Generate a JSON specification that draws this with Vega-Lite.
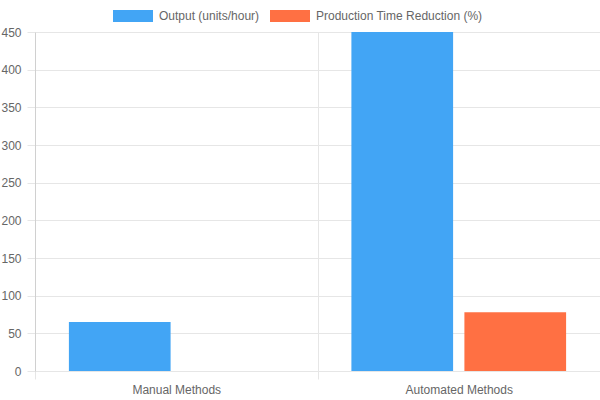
{
  "$schema": "https://vega.github.io/schema/vega-lite/v6.json",
  "description": "Output and production time reduction, manual vs automated methods.",
  "autosize": {"type": "none"},
  "width": 565,
  "height": 339,
  "padding": {"left": 35, "top": 32, "right": 0, "bottom": 29},
  "data": {
    "values": [
      {"method": "Manual Methods", "series": "Output (units/hour)", "value": 65},
      {"method": "Manual Methods", "series": "Production Time Reduction (%)", "value": 0},
      {"method": "Automated Methods", "series": "Output (units/hour)", "value": 450},
      {"method": "Automated Methods", "series": "Production Time Reduction (%)", "value": 78}
    ]
  },
  "mark": {"type": "bar", "stroke": null},
  "encoding": {
    "x": {
      "field": "method",
      "type": "nominal",
      "sort": ["Manual Methods", "Automated Methods"],
      "scale": {"paddingInner": 0, "paddingOuter": 0},
      "title": null,
      "axis": {
        "labelAngle": 0,
        "grid": true,
        "tickBand": "extent",
        "tickSize": 8,
        "labelPadding": 5,
        "domain": false
      }
    },
    "xOffset": {
      "field": "series",
      "type": "nominal",
      "sort": ["Output (units/hour)", "Production Time Reduction (%)"],
      "scale": {"paddingInner": 0.1, "paddingOuter": 0.3}
    },
    "y": {
      "field": "value",
      "type": "quantitative",
      "title": null,
      "scale": {"domain": [0, 450], "nice": false},
      "axis": {
        "values": [0, 50, 100, 150, 200, 250, 300, 350, 400, 450],
        "tickSize": 8,
        "labelPadding": 6
      }
    },
    "color": {
      "field": "series",
      "type": "nominal",
      "sort": ["Output (units/hour)", "Production Time Reduction (%)"],
      "scale": {"range": ["#42A5F5", "#FF7043"]},
      "legend": {
        "title": null,
        "orient": "none",
        "direction": "horizontal",
        "legendX": 78,
        "legendY": -36,
        "symbolType": "M-1,-0.3L1,-0.3L1,0.3L-1,0.3Z",
        "symbolSize": 1600,
        "symbolStrokeWidth": 0,
        "symbolOpacity": 1,
        "labelOffset": 6,
        "labelLimit": 400,
        "columnPadding": 10
      }
    }
  },
  "config": {
    "font": "Liberation Sans",
    "view": {"stroke": null},
    "axis": {
      "labelFont": "Liberation Sans",
      "labelFontSize": 12,
      "labelColor": "#666666",
      "gridColor": "#e6e6e6",
      "tickColor": "#e6e6e6",
      "domainColor": "#d0d0d0"
    },
    "legend": {
      "labelFont": "Liberation Sans",
      "labelFontSize": 12,
      "labelColor": "#666666"
    }
  }
}
